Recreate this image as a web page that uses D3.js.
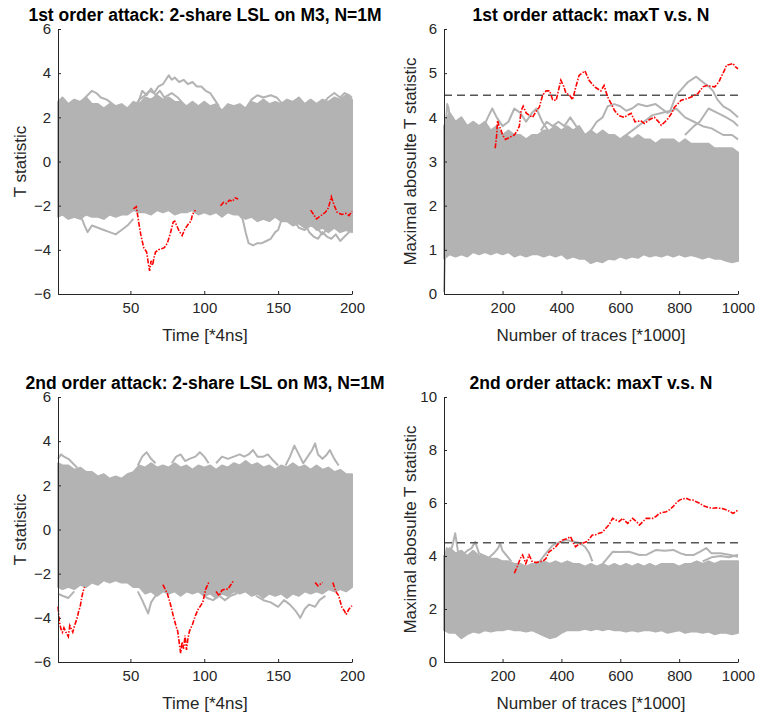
<!DOCTYPE html>
<html>
<head>
<meta charset="utf-8">
<script src="https://cdn.jsdelivr.net/npm/d3@7"></script>
<style>
  body { margin: 0; background: #fff; }
  text { font-family: "Liberation Sans", Arial, Helvetica, sans-serif; fill: #262626; }
  .tick text { font-size: 15px; }
  .axisLabel { font-size: 17px; }
  .title { font-size: 17.5px; font-weight: bold; fill: #000; }
</style>
</head>
<body>
<svg id="chart" width="757" height="715"></svg>
<script>
// sample grids for the dense grey band
const timeGrid = [1, 4, 8, 12, 16, 20, 24, 28, 32, 36, 40, 44, 48, 52, 56, 60, 64, 68, 72, 76, 80, 84, 88, 92, 96, 100,
  104, 108, 112, 116, 120, 124, 128, 132, 136, 140, 144, 148, 152, 156, 160, 164, 168, 172, 176, 180, 184, 188, 192, 196, 200];
const traceGrid = [1, 20, 40, 60, 80, 100, 120, 140, 160, 180, 200, 220, 240, 260, 280, 300, 320, 340, 360, 380, 400,
  420, 440, 460, 480, 500, 520, 540, 560, 580, 600, 620, 640, 660, 680, 700, 720, 740, 760, 780, 800,
  820, 840, 860, 880, 900, 920, 940, 960, 980, 1000];

const threshold = 4.5;

// ---- 1st order, T over time ----
const t1Upper = [2.7, 2.9, 2.6, 2.8, 2.7, 2.9, 2.6, 2.6, 2.4, 2.6, 2.5, 2.6, 2.4, 2.7, 2.6, 2.9, 2.8, 3.0, 2.8, 2.9, 2.7,
  2.7, 2.5, 2.7, 2.5, 2.7, 2.5, 2.6, 2.3, 2.6, 2.5, 2.6, 2.4, 2.7, 2.6, 2.8, 2.6, 2.7, 2.6, 2.8, 2.7,
  2.9, 2.6, 2.8, 2.6, 2.8, 2.7, 2.9, 2.8, 3.0, 2.8];
const t1Lower = [-2.5, -2.4, -2.6, -2.5, -2.6, -2.4, -2.5, -2.5, -2.6, -2.4, -2.5, -2.4, -2.4, -2.2, -2.3, -2.3, -2.4, -2.2,
  -2.3, -2.2, -2.4, -2.3, -2.3, -2.2, -2.4, -2.3, -2.4, -2.3, -2.5, -2.3, -2.4, -2.4, -2.6, -2.5, -2.7, -2.6, -2.7, -2.5,
  -2.7, -2.7, -2.9, -2.8, -3.0, -2.8, -3.1, -3.0, -3.2, -3.0, -3.2, -3.1, -3.2];
const t1Grey = [
  [[52, 2.4], [56, 2.8], [60, 3.0], [63, 3.2], [66, 3.1], [69, 3.4], [72, 3.5], [74, 3.7], [76, 3.9], [78, 3.7], [80, 3.8],
   [83, 3.6], [86, 3.7], [89, 3.5], [92, 3.6], [95, 3.4], [98, 3.4], [101, 3.2], [104, 3.1], [107, 2.8], [110, 2.5]],
  [[14, 2.5], [18, 2.8], [21, 3.0], [24, 3.2], [27, 3.1], [30, 2.9], [34, 2.8], [38, 2.6], [42, 2.4]],
  [[55, 2.6], [58, 3.2], [61, 3.0], [64, 3.3], [67, 3.0], [70, 3.2], [73, 2.9], [78, 3.1], [82, 2.9], [86, 2.6]],
  [[128, 2.4], [132, 2.8], [136, 3.0], [140, 2.9], [145, 3.0], [149, 2.9], [153, 2.6]],
  [[180, 2.6], [184, 2.9], [188, 3.1], [192, 2.9], [195, 3.1], [198, 3.0], [200, 2.9]],
  [[16, -2.4], [19, -2.9], [21, -3.2], [24, -2.9], [28, -3.0], [32, -3.1], [36, -3.2], [40, -3.3], [44, -3.1], [48, -2.9], [52, -2.6]],
  [[122, -2.3], [126, -2.6], [128, -3.2], [130, -3.7], [133, -3.8], [136, -3.7], [139, -3.7], [142, -3.6], [145, -3.5],
   [148, -3.2], [150, -3.1], [152, -2.7], [155, -2.5]],
  [[168, -2.8], [171, -3.2], [174, -3.4], [177, -3.5], [180, -3.2], [183, -3.4], [186, -3.5], [189, -3.3], [192, -3.6],
   [195, -3.4], [198, -3.2], [200, -3.0]],
  [[160, -2.6], [164, -3.0], [168, -3.1], [172, -2.9], [176, -3.0], [180, -3.3], [184, -3.0]]
];
const t1Red = [
  [[52, -2.15], [54, -2.05], [56, -2.9], [57, -3.3], [59, -3.9], [61, -4.1], [62, -4.55], [63, -4.95], [64, -4.5], [65, -4.7],
   [66, -4.35], [67, -4.1], [69, -4.0], [71, -3.95], [73, -3.9], [75, -3.7], [77, -3.27], [79, -2.74], [80, -2.7], [82, -3.0],
   [83, -3.15], [85, -3.35], [87, -3.05], [89, -2.85], [91, -2.7], [92, -2.4], [94, -2.2]],
  [[111, -2.0], [113, -1.85], [115, -1.9], [117, -1.75], [119, -1.8], [121, -1.65], [123, -1.7]],
  [[172, -2.2], [174, -2.4], [176, -2.6], [178, -2.5], [180, -2.4], [182, -2.3], [184, -2.1], [186, -1.6], [188, -2.0],
   [190, -2.3], [193, -2.4], [196, -2.35], [198, -2.45], [200, -2.25]]
];

// ---- 1st order, maxT over N ----
const n1Upper = [3.8, 4.1, 3.9, 4.0, 3.8, 3.9, 3.8, 3.9, 3.7, 3.8, 3.6, 3.7, 3.6, 3.6, 3.5, 3.6, 3.6, 3.7, 3.7, 3.8, 3.7,
  3.8, 3.7, 3.8, 3.6, 3.7, 3.6, 3.7, 3.6, 3.6, 3.5, 3.6, 3.5, 3.6, 3.5, 3.5, 3.4, 3.5, 3.5, 3.5, 3.4,
  3.5, 3.4, 3.4, 3.4, 3.4, 3.3, 3.3, 3.3, 3.3, 3.2];
const n1Lower = [0.8, 0.9, 0.85, 0.9, 0.85, 0.95, 0.9, 0.95, 0.9, 0.95, 0.9, 0.95, 0.85, 0.9, 0.85, 0.9, 0.9, 0.85, 0.9,
  0.85, 0.9, 0.8, 0.85, 0.8, 0.8, 0.7, 0.75, 0.72, 0.8, 0.78, 0.85, 0.8, 0.85, 0.82, 0.9, 0.85, 0.88, 0.85, 0.9, 0.85, 0.9,
  0.85, 0.88, 0.85, 0.8, 0.85, 0.8, 0.8, 0.75, 0.72, 0.75];
const n1Grey = [
  [[1, 0.05], [4, 0.8], [8, 1.2]],
  [[5, 3.6], [12, 4.3], [17, 4.2], [22, 3.9], [30, 4.0], [40, 3.8]],
  [[130, 3.7], [150, 4.0], [165, 4.2], [180, 4.0], [200, 3.8], [220, 3.9], [240, 4.2], [260, 4.1], [280, 3.9], [300, 4.1],
   [315, 4.2], [335, 3.9], [355, 3.7]],
  [[330, 3.7], [350, 3.9], [370, 3.8], [390, 3.9], [410, 3.8], [430, 4.0], [450, 3.8], [470, 3.7]],
  [[480, 3.5], [500, 3.7], [520, 3.9], [540, 4.0], [557, 4.25], [580, 4.3], [600, 4.25], [620, 4.15], [640, 4.2], [660, 4.3],
   [690, 4.25], [720, 4.3], [740, 4.2], [760, 4.1], [790, 4.2], [820, 4.0], [850, 3.9], [880, 3.8], [910, 3.75], [950, 3.6],
   [980, 3.6], [1000, 3.5]],
  [[600, 3.5], [640, 3.7], [680, 3.9], [710, 4.05], [740, 4.1], [770, 4.15], [790, 4.5], [810, 4.65], [830, 4.8], [858, 4.92],
   [880, 4.8], [900, 4.7], [915, 4.6], [930, 4.4], [950, 4.25], [975, 4.15], [1000, 4.0]],
  [[820, 3.6], [850, 3.8], [870, 3.9], [900, 4.2], [930, 4.1], [960, 4.0], [985, 3.9], [1000, 3.8]]
];
const n1Red = [
  [[175, 3.3], [180, 3.6], [183, 3.93], [188, 3.8], [193, 3.75], [200, 3.6], [210, 3.5], [225, 3.55], [240, 3.6], [250, 3.7],
   [257, 3.8], [263, 4.15], [270, 4.25], [280, 4.1], [290, 4.05], [302, 4.0], [315, 4.15], [325, 4.23], [336, 4.5], [348, 4.6],
   [360, 4.6], [370, 4.4], [382, 4.38], [398, 4.84], [408, 4.7], [415, 4.55], [428, 4.5], [438, 4.4], [449, 4.69], [460, 4.95],
   [470, 5.0], [480, 5.05], [494, 4.84], [505, 4.75], [515, 4.68], [534, 4.6], [545, 4.72], [557, 4.46], [570, 4.3], [580, 4.16],
   [595, 4.04], [614, 4.0], [625, 4.05], [637, 4.09], [650, 3.9], [670, 3.92], [682, 3.86], [700, 3.95], [716, 4.0], [730, 3.9],
   [739, 3.82], [752, 3.9], [762, 3.97], [775, 4.1], [784, 4.23], [795, 4.3], [807, 4.39], [825, 4.42], [841, 4.46], [864, 4.54],
   [881, 4.69], [893, 4.72], [910, 4.7], [921, 4.69], [935, 4.8], [943, 4.92], [953, 5.05], [961, 5.18], [975, 5.2], [983, 5.22],
   [990, 5.15], [1000, 5.1]]
];

// ---- 2nd order, T over time ----
const t2Upper = [3.0, 2.9, 2.9, 2.7, 2.8, 2.6, 2.6, 2.4, 2.5, 2.3, 2.4, 2.3, 2.5, 2.6, 2.9, 2.8, 3.0, 2.8, 2.9, 2.8, 3.0,
  2.8, 2.9, 2.7, 2.9, 2.8, 2.9, 2.7, 2.9, 2.8, 3.0, 2.9, 3.1, 2.9, 3.0, 2.8, 2.9, 2.7, 2.9, 2.8, 3.0,
  2.8, 2.9, 2.7, 2.9, 2.7, 2.8, 2.6, 2.7, 2.5, 2.5];
const t2Lower = [-2.6, -2.7, -2.6, -2.7, -2.5, -2.6, -2.4, -2.5, -2.3, -2.4, -2.3, -2.4, -2.4, -2.6, -2.6, -2.9, -2.8, -3.0,
  -2.8, -2.9, -2.8, -3.0, -2.8, -2.9, -2.8, -3.0, -2.9, -3.1, -2.9, -3.0, -2.8, -2.9, -2.8, -3.0, -2.9, -3.1, -2.9, -3.0,
  -2.9, -3.1, -2.9, -3.0, -2.8, -2.9, -2.8, -2.9, -2.7, -2.8, -2.7, -2.8, -2.6];
const t2Grey = [
  [[1, 3.2], [3, 3.4], [5, 3.3], [8, 3.2], [11, 3.0], [14, 2.8]],
  [[55, 2.9], [58, 3.3], [61, 3.5], [64, 3.2], [67, 3.0]],
  [[78, 3.0], [81, 3.3], [84, 3.4], [87, 3.1], [90, 3.2], [94, 3.3], [97, 3.5], [100, 3.3], [103, 3.0]],
  [[108, 3.0], [112, 3.3], [116, 3.2], [120, 3.3], [124, 3.4], [127, 3.3], [130, 3.4], [133, 3.6], [136, 3.3], [140, 3.3],
   [143, 3.4], [147, 3.1], [150, 2.9]],
  [[155, 2.9], [158, 3.3], [161, 3.8], [164, 3.4], [167, 3.0], [170, 3.3], [173, 3.6], [175, 3.9], [177, 3.4], [180, 3.2],
   [183, 3.4], [185, 3.6], [188, 3.2], [191, 2.9]],
  [[1, -2.9], [4, -3.0], [8, -3.1], [12, -2.8]],
  [[55, -2.8], [58, -3.2], [60, -3.5], [62, -3.8], [64, -3.3], [67, -3.0], [70, -2.9]],
  [[98, -2.9], [102, -3.1], [106, -3.2], [110, -3.0], [114, -3.2], [118, -3.0], [122, -2.9]],
  [[135, -3.0], [140, -3.2], [145, -3.3], [150, -3.5], [154, -3.2], [158, -3.4], [162, -3.7], [165, -4.0], [168, -3.6],
   [171, -3.4], [175, -3.5], [178, -3.2], [182, -3.0]]
];
const t2Red = [
  [[1, -3.5], [2, -4.2], [3, -4.5], [4, -4.65], [5, -4.45], [6, -4.6], [8, -4.85], [9, -4.35], [10, -4.5], [11, -4.65],
   [12, -4.4], [14, -4.0], [15, -3.7], [16, -3.5], [17, -3.1], [18, -2.8], [19, -2.6]],
  [[72, -2.5], [75, -2.9], [77, -3.35], [79, -3.9], [81, -4.4], [82, -4.6], [83, -5.1], [84, -5.6], [85, -5.1], [86, -5.4],
   [87, -4.8], [88, -5.45], [89, -4.9], [90, -4.6], [92, -4.3], [94, -3.9], [96, -3.6], [98, -3.4], [99, -3.3], [101, -2.7],
   [103, -2.4]],
  [[108, -2.8], [110, -3.0], [112, -2.75], [114, -2.7], [116, -2.7], [118, -2.5], [120, -2.3]],
  [[175, -2.4], [177, -2.55], [180, -2.4]],
  [[187, -2.4], [189, -2.8], [191, -3.0], [193, -3.5], [195, -3.7], [196, -3.85], [198, -3.6], [200, -3.45]]
];

// ---- 2nd order, maxT over N ----
const n2Upper = [4.0, 4.3, 4.1, 4.2, 4.0, 4.2, 4.0, 4.0, 3.9, 3.9, 3.8, 3.8, 3.7, 3.7, 3.6, 3.7, 3.7, 3.8, 3.7, 3.8, 3.7,
  3.8, 3.7, 3.7, 3.6, 3.7, 3.6, 3.7, 3.6, 3.7, 3.6, 3.7, 3.6, 3.7, 3.6, 3.7, 3.6, 3.7, 3.7, 3.7, 3.6,
  3.7, 3.7, 3.8, 3.7, 3.8, 3.7, 3.8, 3.8, 3.8, 3.8];
const n2Lower = [1.2, 1.1, 1.1, 0.9, 1.05, 1.15, 1.1, 1.2, 1.15, 1.2, 1.2, 1.25, 1.2, 1.2, 1.15, 1.2, 1.1, 1.0, 0.9, 0.95,
  1.1, 1.2, 1.2, 1.2, 1.25, 1.2, 1.25, 1.2, 1.25, 1.2, 1.2, 1.15, 1.2, 1.15, 1.2, 1.2, 1.15, 1.2, 1.1, 1.15, 1.2,
  1.1, 1.15, 1.15, 1.1, 1.15, 1.05, 1.1, 1.1, 1.05, 1.1];
const n2Grey = [
  [[1, 3.6], [10, 4.3], [20, 4.1], [30, 4.4], [39, 4.86], [48, 4.2], [60, 4.0], [80, 4.2], [95, 4.3], [107, 4.54], [120, 4.1], [140, 4.0]],
  [[150, 3.9], [170, 4.1], [185, 4.3], [192, 4.48], [200, 4.2], [215, 4.0], [230, 3.8]],
  [[320, 3.7], [340, 4.0], [355, 4.2], [370, 4.4], [390, 4.5], [415, 4.6], [440, 4.55], [460, 4.5], [480, 4.35], [495, 4.1], [505, 3.8]],
  [[540, 3.7], [555, 3.9], [574, 4.16], [600, 4.15], [630, 4.16], [665, 4.04], [690, 4.05], [722, 4.23], [750, 4.2], [780, 4.23],
   [805, 4.1], [824, 4.04], [850, 4.04], [870, 4.16], [892, 4.3], [910, 4.1], [940, 4.1], [970, 4.05], [1000, 3.97]],
  [[880, 3.8], [910, 3.95], [940, 4.0], [970, 3.95], [1000, 4.05]]
];
const n2Red = [
  [[240, 3.35], [250, 3.6], [260, 3.9], [268, 4.04], [279, 3.72], [290, 4.04], [300, 3.8], [315, 3.75], [325, 3.79], [336, 3.8],
   [347, 3.9], [358, 4.16], [370, 4.25], [381, 4.35], [392, 4.5], [403, 4.6], [418, 4.65], [431, 4.73], [440, 4.5], [448, 4.35],
   [460, 4.45], [471, 4.48], [488, 4.55], [505, 4.79], [516, 4.8], [528, 4.86], [540, 4.9], [551, 5.05], [563, 5.2], [574, 5.42],
   [585, 5.36], [596, 5.3], [608, 5.42], [625, 5.23], [642, 5.42], [655, 5.3], [665, 5.17], [677, 5.3], [688, 5.42], [710, 5.42],
   [722, 5.5], [733, 5.61], [756, 5.67], [768, 5.75], [779, 5.86], [790, 6.0], [801, 6.11], [812, 6.15], [824, 6.18], [835, 6.12],
   [847, 6.11], [858, 6.05], [870, 5.99], [881, 5.9], [892, 5.86], [903, 5.82], [915, 5.8], [926, 5.82], [938, 5.8], [950, 5.78],
   [961, 5.74], [972, 5.68], [983, 5.61], [992, 5.66], [1000, 5.74]]
];

const panels = [
  { left: 58, top: 29, title: '1st order attack: 2-share LSL on M3, N=1M', xLabel: 'Time [*4ns]', yLabel: 'T statistic',
    xDomain: [1, 200], yDomain: [-6, 6], xTicks: [50, 100, 150, 200], yTicks: [-6, -4, -2, 0, 2, 4, 6],
    grid: timeGrid, upper: t1Upper, lower: t1Lower, grey: t1Grey, red: t1Red, dashed: false },
  { left: 444, top: 29, title: '1st order attack: maxT v.s. N', xLabel: 'Number of traces [*1000]', yLabel: 'Maximal abosulte T statistic',
    xDomain: [1, 1000], yDomain: [0, 6], xTicks: [200, 400, 600, 800, 1000], yTicks: [0, 1, 2, 3, 4, 5, 6],
    grid: traceGrid, upper: n1Upper, lower: n1Lower, grey: n1Grey, red: n1Red, dashed: true },
  { left: 58, top: 397, title: '2nd order attack: 2-share LSL on M3, N=1M', xLabel: 'Time [*4ns]', yLabel: 'T statistic',
    xDomain: [1, 200], yDomain: [-6, 6], xTicks: [50, 100, 150, 200], yTicks: [-6, -4, -2, 0, 2, 4, 6],
    grid: timeGrid, upper: t2Upper, lower: t2Lower, grey: t2Grey, red: t2Red, dashed: false },
  { left: 444, top: 397, title: '2nd order attack: maxT v.s. N', xLabel: 'Number of traces [*1000]', yLabel: 'Maximal abosulte T statistic',
    xDomain: [1, 1000], yDomain: [0, 10], xTicks: [200, 400, 600, 800, 1000], yTicks: [0, 2, 4, 6, 8, 10],
    grid: traceGrid, upper: n2Upper, lower: n2Lower, grey: n2Grey, red: n2Red, dashed: true }
];

const plotW = 294;
const plotH = 265;
const grey = '#b3b3b3';

const svg = d3.select('#chart');

panels.forEach((p) => {
  const g = svg.append('g').attr('transform', `translate(${p.left}, ${p.top})`);

  const x = d3.scaleLinear().domain(p.xDomain).range([0, plotW]);
  const y = d3.scaleLinear().domain(p.yDomain).range([plotH, 0]);

  const plot = g.append('g');

  // dense grey core of all the traces
  const band = p.grid.map((v, i) => ({ x: v, lo: p.lower[i], hi: p.upper[i] }));
  plot.append('path')
    .datum(band)
    .attr('d', d3.area().x((d) => x(d.x)).y0((d) => y(d.lo)).y1((d) => y(d.hi)))
    .attr('fill', grey)
    .attr('stroke', grey)
    .attr('stroke-width', 2)
    .attr('stroke-linejoin', 'round');

  const line = d3.line().x((d) => x(d[0])).y((d) => y(d[1]));

  plot.selectAll('.greyLine')
    .data(p.grey)
    .enter()
    .append('path')
    .attr('class', 'greyLine')
    .attr('d', line)
    .attr('fill', 'none')
    .attr('stroke', grey)
    .attr('stroke-width', 2)
    .attr('stroke-linejoin', 'round');

  if (p.dashed) {
    plot.append('path')
      .datum([[p.xDomain[0], threshold], [p.xDomain[1], threshold]])
      .attr('d', line)
      .attr('fill', 'none')
      .attr('stroke', '#555')
      .attr('stroke-width', 1.5)
      .attr('stroke-dasharray', '8,5');
  }

  plot.selectAll('.redLine')
    .data(p.red)
    .enter()
    .append('path')
    .attr('class', 'redLine')
    .attr('d', line)
    .attr('fill', 'none')
    .attr('stroke', '#ff0000')
    .attr('stroke-width', 1.6)
    .attr('stroke-dasharray', '5,1.5,1.5,1.5');

  // axes (ticks point inward, no box)
  const fmt = d3.format('d');
  const xAxis = g.append('g')
    .attr('transform', `translate(0, ${plotH})`)
    .call(d3.axisBottom(x).tickValues(p.xTicks).tickFormat(fmt).tickSizeInner(-3).tickSizeOuter(0).tickPadding(8));
  const yAxis = g.append('g')
    .call(d3.axisLeft(y).tickValues(p.yTicks).tickFormat(fmt).tickSizeInner(-3).tickSizeOuter(0).tickPadding(7));
  [xAxis, yAxis].forEach((a) => {
    a.select('.domain').attr('stroke', '#262626');
    a.selectAll('.tick line').attr('stroke', '#262626');
    a.selectAll('.tick text').attr('fill', '#262626');
  });

  g.append('text')
    .text(p.title)
    .attr('class', 'title')
    .attr('x', plotW / 2)
    .attr('y', -8)
    .attr('text-anchor', 'middle');

  g.append('text')
    .text(p.xLabel)
    .attr('class', 'axisLabel')
    .attr('x', plotW / 2)
    .attr('y', plotH + 41)
    .attr('dy', '0.35em')
    .attr('text-anchor', 'middle');

  g.append('text')
    .text(p.yLabel)
    .attr('class', 'axisLabel')
    .attr('transform', `translate(${p.left < 100 ? 20 - p.left : 410 - p.left}, ${plotH / 2}) rotate(-90)`)
    .attr('dy', '0.35em')
    .attr('text-anchor', 'middle');
});
</script>
</body>
</html>
